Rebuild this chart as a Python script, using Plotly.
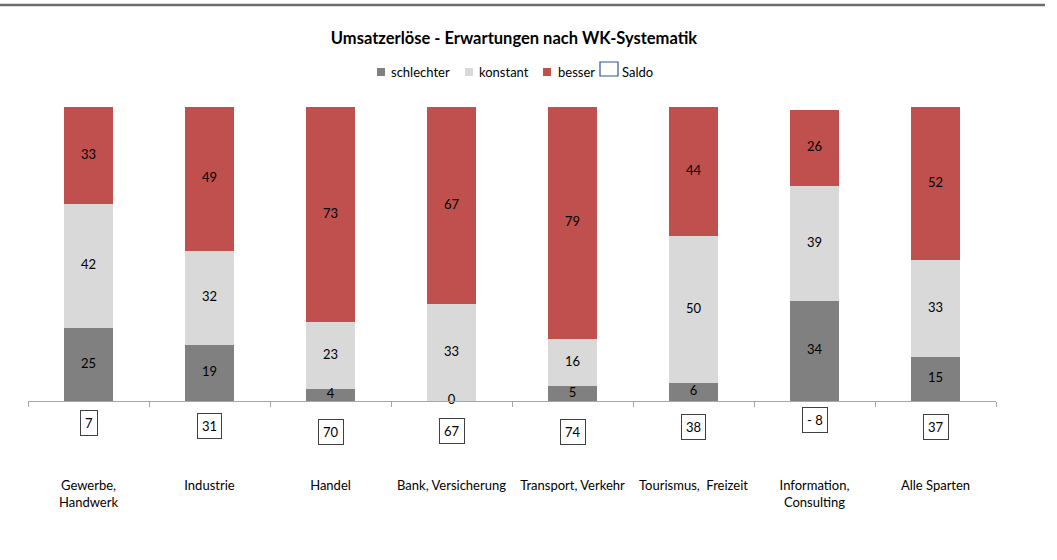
import plotly.graph_objects as go

# Sector categories (line breaks as printed under the axis)
categories = ["Gewerbe,<br>Handwerk", "Industrie", "Handel", "Bank, Versicherung",
              "Transport, Verkehr", "Tourismus,  Freizeit", "Information,<br>Consulting",
              "Alle Sparten"]

# Shares of answers in percent
schlechter = [25, 19, 4, 0, 5, 6, 34, 15]
konstant = [42, 32, 23, 33, 16, 50, 39, 33]
besser = [33, 49, 73, 67, 79, 44, 26, 52]

# Balance (besser minus schlechter), as published
saldo = [7, 31, 70, 67, 74, 38, -8, 37]

series_names = ["schlechter", "konstant", "besser"]
colors = {"schlechter": "#808080", "konstant": "#d9d9d9", "besser": "#c0504d"}
saldo_color = "#2f5597"

FONT = "Lato"
Y_MAX = 100

fig = go.Figure()
values = {"schlechter": schlechter, "konstant": konstant, "besser": besser}
for name in series_names:
    fig.add_trace(go.Bar(
        x=categories, y=values[name], name=name,
        marker=dict(color=colors[name], line=dict(width=0)),
        width=0.4, showlegend=False, hoverinfo="y+name",
    ))

# Segment labels at the middle of each stacked segment
lab_x, lab_y, lab_t = [], [], []
for i, cat in enumerate(categories):
    base = 0
    for name in series_names:
        v = values[name][i]
        lab_x.append(cat)
        lab_y.append(base + v / 2)
        lab_t.append(str(v))
        base += v
fig.add_trace(go.Scatter(
    x=lab_x, y=lab_y, text=lab_t, mode="text",
    textfont=dict(family=FONT, size=13, color="#000000"),
    textposition="middle center", showlegend=False, hoverinfo="skip",
    cliponaxis=False,
))

# Balance values in framed boxes below the axis (value scale 0..Y_MAX maps to paper 0..1)
for cat, s in zip(categories, saldo):
    txt = f"- {abs(s)}" if s < 0 else str(s)
    fig.add_annotation(
        x=cat, y=(-7 - s * 0.05) / Y_MAX, xref="x", yref="paper", text=txt,
        showarrow=False, yanchor="middle",
        font=dict(family=FONT, size=13, color="#000000"),
        bordercolor="#404040", borderwidth=1, borderpad=4, bgcolor="#ffffff",
    )

# Legend drawn as a single row of swatches and labels
legend_items = [
    ("schlechter", 377, 385, 68, 76, colors["schlechter"], None, 389),
    ("konstant", 465, 473, 68, 76, colors["konstant"], None, 477),
    ("besser", 543, 551, 68, 76, colors["besser"], None, 556),
    ("Saldo", 600, 618, 62, 76, "#ffffff", saldo_color, 620),
]
W, H = 1057, 560
ML, MR, MT, MB = 28, 61, 107, 159
pw, ph = W - ML - MR, H - MT - MB


def px_x(x):
    return (x - ML) / pw


def px_y(y):
    return (H - MB - y) / ph


for label, x0, x1, y0, y1, fill, edge, tx in legend_items:
    fig.add_shape(
        type="rect", xref="paper", yref="paper",
        x0=px_x(x0), x1=px_x(x1), y0=px_y(y1), y1=px_y(y0),
        fillcolor=fill,
        line=dict(color=edge if edge else fill, width=1.2 if edge else 0),
    )
    fig.add_annotation(
        x=px_x(tx), y=px_y(72), xref="paper", yref="paper", text=label,
        showarrow=False, xanchor="left", yanchor="middle",
        font=dict(family=FONT, size=13, color="#000000"),
    )

# Top rule across the page
fig.add_shape(
    type="line", xref="paper", yref="paper",
    x0=px_x(0), x1=px_x(1045), y0=px_y(5), y1=px_y(5),
    line=dict(color="#6d6d6d", width=2.5),
)

fig.update_layout(
    width=W, height=H,
    margin=dict(l=ML, r=MR, t=MT, b=MB),
    barmode="stack",
    paper_bgcolor="#ffffff", plot_bgcolor="#ffffff",
    title=dict(
        text="<b>Umsatzerlöse - Erwartungen nach WK-Systematik</b>",
        x=514 / W, xanchor="center", y=1 - 38 / H, yanchor="middle",
        font=dict(family=FONT, size=16.5, color="#000000"),
    ),
    font=dict(family=FONT, size=13, color="#000000"),
    xaxis=dict(
        type="category", showline=True, linecolor="#a6a6a6", linewidth=1,
        ticks="outside", tickson="boundaries", ticklen=5, tickcolor="#a6a6a6",
        showgrid=False, zeroline=False, ticklabelstandoff=72,
        tickfont=dict(family=FONT, size=13, color="#000000"),
        range=[-0.5, len(categories) - 0.5],
    ),
    yaxis=dict(
        range=[0, Y_MAX], visible=False, showgrid=False, zeroline=False,
    ),
    showlegend=False,
)

fig.write_html("out.html")
